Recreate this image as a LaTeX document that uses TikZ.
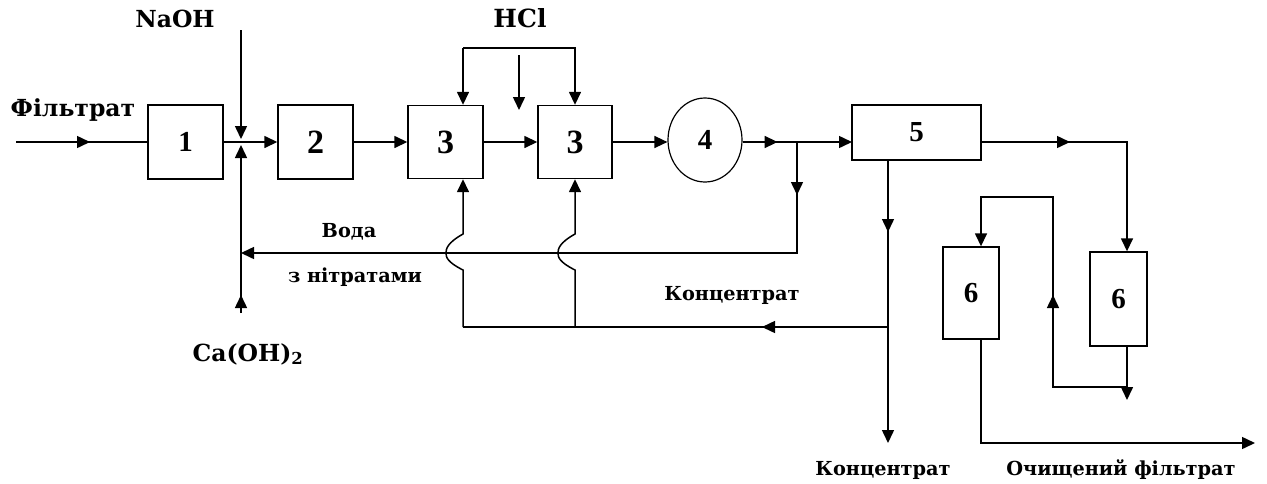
\documentclass[tikz,border=0pt]{standalone}
\usepackage{fontspec}
\setmainfont{DejaVu Serif}
\newfontfamily\digitfont{Liberation Serif}
\usetikzlibrary{arrows.meta,decorations.markings,shapes.geometric}
\begin{document}
\begin{tikzpicture}[x=1pt,y=-1pt,
  line width=1.5pt,
  >={Triangle[length=13pt,width=12pt]},
  box/.style={draw,line width=1.4pt,rectangle,inner sep=0pt,fill=white},
  lbl/.style={font=\fontsize{23.5}{26}\selectfont\bfseries,inner sep=0pt},
  lbls/.style={font=\fontsize{19.3}{22}\selectfont\bfseries,inner sep=0pt},
  dig/.style={font=\digitfont\fontsize{29}{30}\selectfont\bfseries},
  digb/.style={font=\digitfont\fontsize{34}{36}\selectfont\bfseries},
  marr/.style={postaction={decorate},decoration={markings,mark=at position #1 with {\arrow{Triangle[length=13pt,width=12pt]}}}},
]
\useasboundingbox (0,0) rectangle (1267,483);
% boxes
\node[box,minimum width=75pt,minimum height=74pt,dig] (b1) at (185.5,142) {1};
\node[box,minimum width=75pt,minimum height=74pt,digb] (b2) at (315.5,142) {2};
\node[box,minimum width=75pt,minimum height=73pt,digb] (b3a) at (445.5,142) {3};
\node[box,minimum width=74pt,minimum height=73pt,digb] (b3b) at (575,142) {3};
\node[draw,line width=1.2pt,ellipse,minimum width=74pt,minimum height=84pt,inner sep=0pt,dig] (c4) at (705,140) {4};
\node[box,minimum width=129pt,minimum height=55pt,dig] (b5) at (916.5,132.5) {5};
\node[box,minimum width=56pt,minimum height=92pt,dig] (b6a) at (971,293) {6};
\node[box,minimum width=57pt,minimum height=94pt,dig] (b6b) at (1118.5,299) {6};
% labels
\node[lbl] (tfil) at (73,110) {Фільтрат};
\node[lbl] (tnaoh) at (175,19) {NaOH};
\node[lbl,font=\fontsize{25}{28}\selectfont\bfseries] (thcl) at (520,18) {HCl};
\node[lbls] (tvoda) at (349,232) {Вода};
\node[lbls] (tnitr) at (355,277) {з нітратами};
\node[lbl] (tcaoh) at (248,354) {Ca(OH)$_\mathbf{2}$};
\node[lbls] (tconc1) at (732,295) {Концентрат};
\node[lbls] (tconc2) at (883,470) {Концентрат};
\node[lbls] (tout) at (1121,470) {Очищений фільтрат};
% coordinates
\coordinate (in) at (16,142);
\coordinate (naoh) at (241,30);
\coordinate (mix) at (241,142);
\coordinate (caoh) at (241,313);
\coordinate (wret) at (241,253);
\coordinate (br4) at (797,142);
\coordinate (br4d) at (797,253);
\coordinate (in5) at (852,142);
\coordinate (hclL) at (463,48);
\coordinate (hclR) at (575,48);
\coordinate (hclM) at (519,55);
\coordinate (hclMe) at (519,110);
\coordinate (o5) at (888,160);
\coordinate (conc) at (888,327);
\coordinate (concEnd) at (888,443);
\coordinate (cL) at (463,327);
\coordinate (cR) at (575,327);
\coordinate (o5r) at (981,142);
\coordinate (c6b) at (1127,142);
\coordinate (o6b) at (1127,400);
\coordinate (r1) at (1127,387);
\coordinate (r2) at (1053,387);
\coordinate (r3) at (1053,197);
\coordinate (r4) at (981,197);
\coordinate (o6a) at (981,443);
\coordinate (outEnd) at (1255,443);
% connectors
\draw[marr=74pt] (in) -- (b1.west);
\draw[->] (b1.east) -- (b2.west);
\draw[->,shorten >=3pt] (naoh) -- (mix);
\draw[->,shorten >=3pt,marr=18pt] (caoh) -- (mix);
\draw[->] (b2.east) -- (b3a.west);
\draw[->] (b3a.east) -- (b3b.west);
\draw[->] (b3b.east) -- (c4.west |- b3b.east);
\draw[->,marr=35pt] (c4.east |- in5) -- (in5);
\draw[->,marr=53pt] (br4) -- (br4d) -- (wret);
\draw[->] (hclL) -- (hclR) -- (b3b.north);
\draw[->] (hclL) -- (b3a.north -| hclL);
\draw[->] (hclM) -- (hclMe);
\draw[->,marr=72pt] (o5) -- (concEnd);
\draw[marr=126pt] (conc) -- (cL);
\draw[->] (cL) -- (463,270) .. controls (447,262) and (446,257) .. (446,253) .. controls (446,249) and (447,243) .. (463,234) -- (b3a.south -| cL);
\draw[->] (cR) -- (575,270) .. controls (559,262) and (558,257) .. (558,253) .. controls (558,249) and (559,243) .. (575,234) -- (b3b.south);
\draw[->,marr=89pt] (o5r) -- (c6b) -- (b6b.north -| c6b);
\draw[->] (b6b.south -| o6b) -- (o6b);
\draw[->,marr=166pt] (r1) -- (r2) -- (r3) -- (r4) -- (b6a.north -| r4);
\draw[->] (b6a.south -| o6a) -- (o6a) -- (outEnd);
\end{tikzpicture}
\end{document}
